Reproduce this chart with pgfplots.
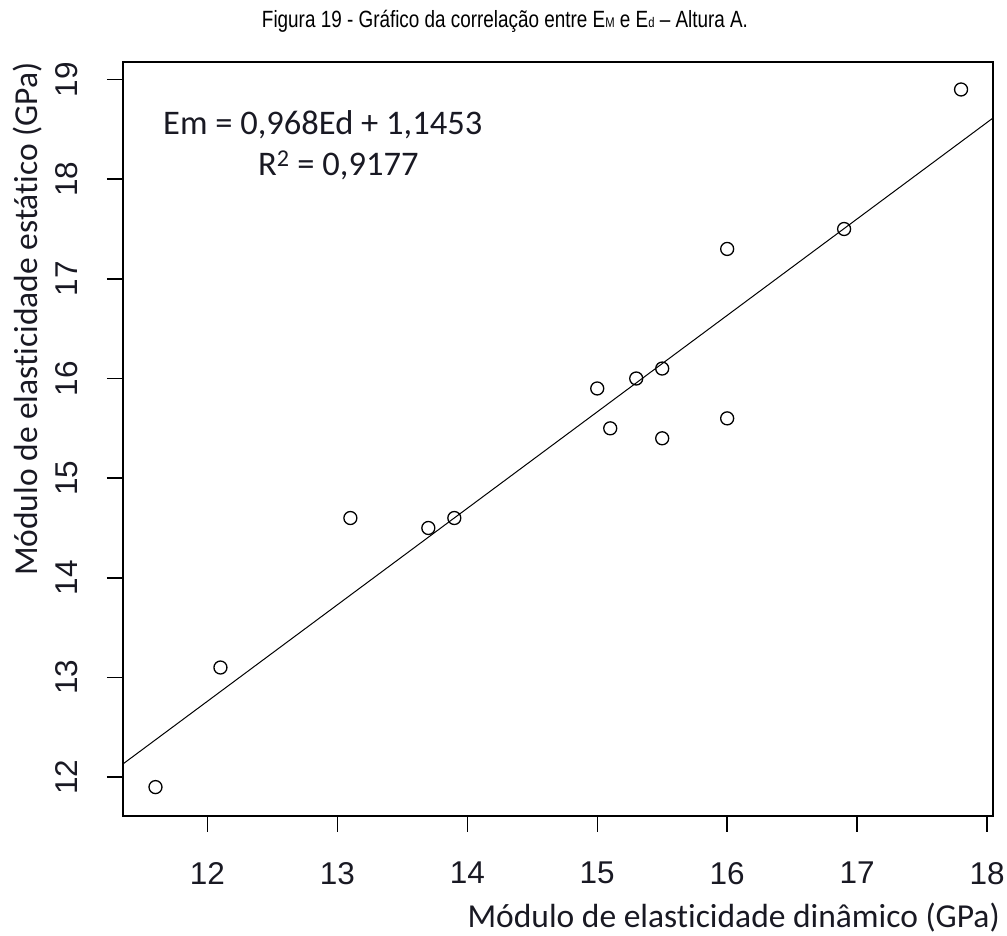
\documentclass[border=0pt]{standalone}
\usepackage{fontspec}
\usepackage{pgfplots}
\pgfplotsset{compat=1.18}
\setmainfont{Liberation Sans}
\newfontfamily\carlito[Ligatures=NoCommon]{Carlito}
\definecolor{txt}{RGB}{25,25,35}
\begin{document}
\begin{tikzpicture}[x=1pt,y=1pt]
\path (0,0) rectangle (1007,936);
\begin{axis}[
  at={(123pt,120pt)}, anchor=south west,
  scale only axis, width=870pt, height=754pt,
  xmin=11.35, xmax=18.046, ymin=11.61, ymax=19.176,
  xtick={12,13,14,15,16,17,18}, ytick={12,13,14,15,16,17,18,19},
  xtick pos=bottom, ytick pos=left,
  tick align=outside, major tick length=16pt,
  axis line style={line width=1.6pt, black},
  every tick/.style={line width=1.4pt, black},
  /pgf/number format/assume math mode=true,
  ticklabel style={font=\fontsize{31.5}{31.5}\selectfont, text=txt, inner sep=0pt},
  xticklabel style={anchor=north, yshift=-30pt},
  yticklabel style={xshift=-29pt, rotate=90, anchor=south},
  clip=false,
]
\addplot[only marks, mark=o, mark size=6.5pt, mark options={line width=1.3pt, black}] coordinates {
(11.6,11.9) (12.1,13.1) (13.1,14.6) (13.7,14.5) (13.9,14.6)
(15.0,15.9) (15.1,15.5) (15.3,16.0) (15.5,16.1) (15.5,15.4)
(16.0,17.3) (16.0,15.6) (16.9,17.5) (17.8,18.9)
};
\addplot[black, line width=1pt] coordinates {(11.35,12.1324) (18.046,18.6138)};
\end{axis}
\node[anchor=base west, inner sep=0, text=txt, font=\carlito\fontsize{34.5}{34.5}\selectfont] at (163,801) {Em = 0,968Ed + 1,1453};
\node[anchor=base west, inner sep=0, text=txt, font=\carlito\fontsize{34.5}{34.5}\selectfont] at (258,760) {R\textsuperscript{2} = 0,9177};
\node[anchor=base, inner sep=0, font=\fontsize{23.5}{23.5}\selectfont] at (505,908) {\resizebox{486pt}{\height}{Figura 19 - Gráfico da correlação entre E{\fontsize{14}{14}\selectfont M} e E{\fontsize{14}{14}\selectfont d} – Altura A.}};
\node[anchor=base east, inner sep=0, text=txt, font=\carlito\fontsize{33.5}{33.5}\selectfont] at (1000,8) {Módulo de elasticidade dinâmico (GPa)};
\node[anchor=base east, rotate=90, inner sep=0, text=txt, font=\carlito\fontsize{33.5}{33.5}\selectfont] at (37,874) {Módulo de elasticidade estático (GPa)};
\end{tikzpicture}
\end{document}
